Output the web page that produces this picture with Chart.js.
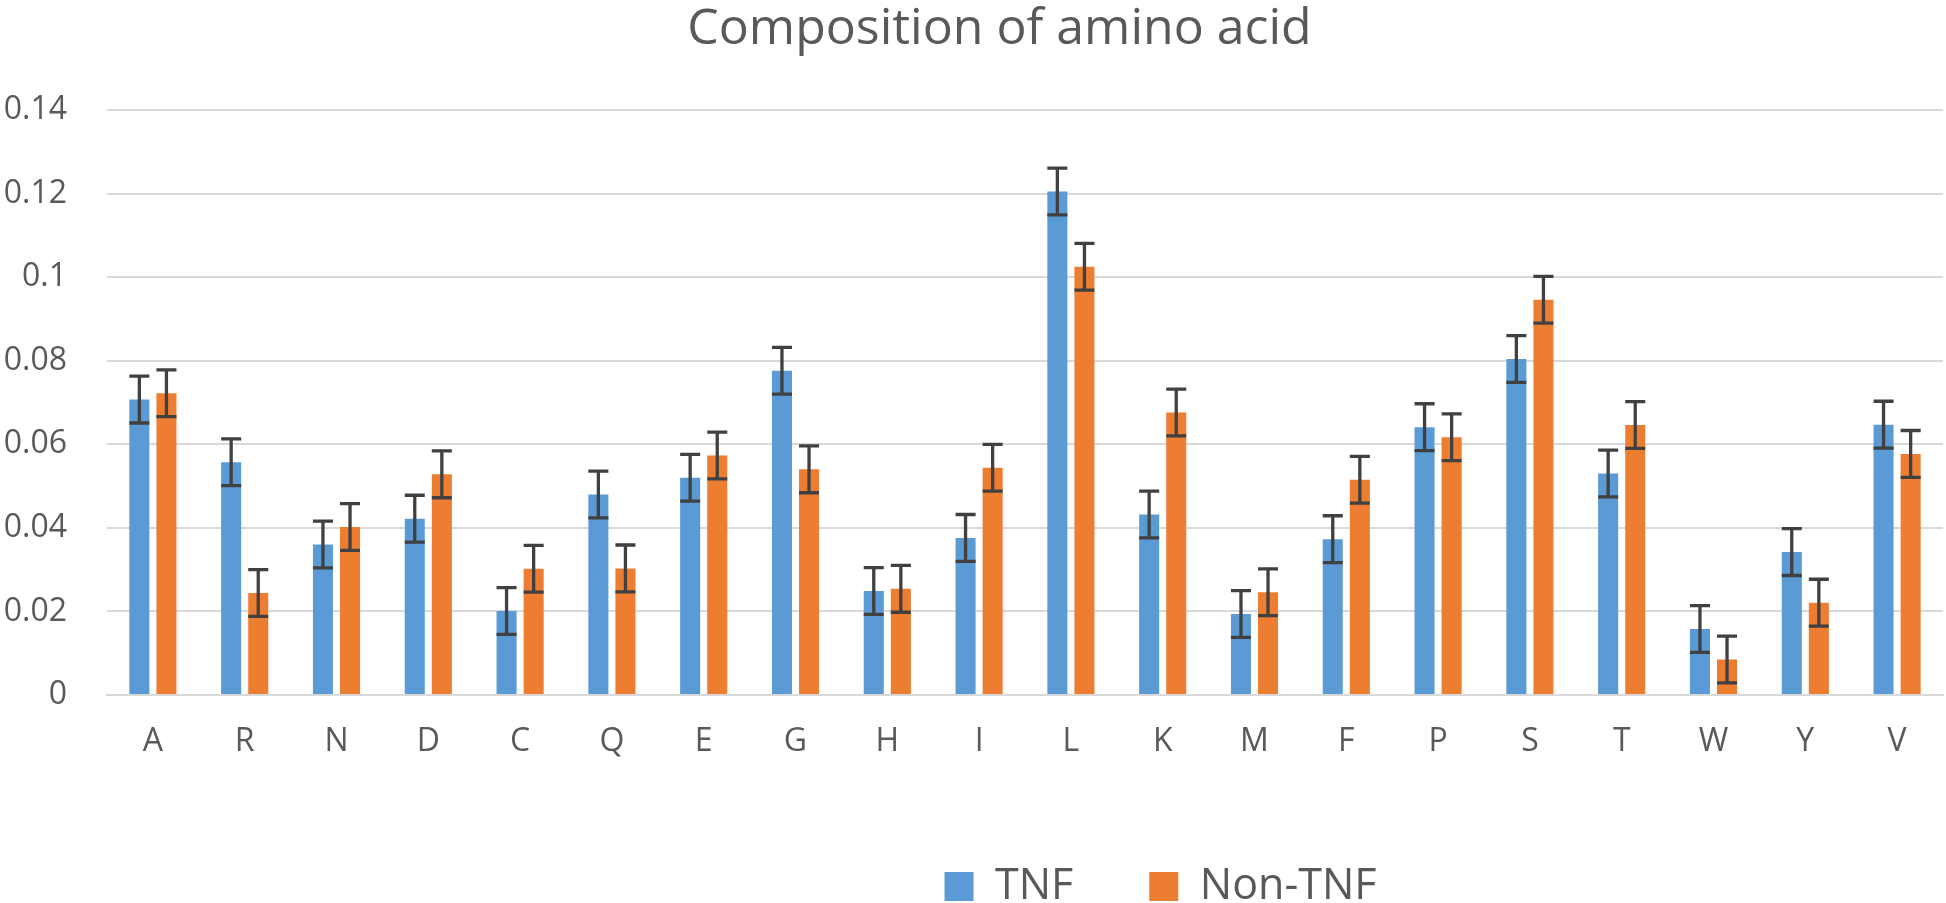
<!DOCTYPE html>
<html>
<head>
<meta charset="utf-8">
<script src="https://cdn.jsdelivr.net/npm/chart.js@4.4.1/dist/chart.umd.min.js"></script>
<style>
  html, body { margin: 0; padding: 0; background: #fff; overflow: hidden; }
  /* a bit taller than the window: the legend is cut at the bottom like in the original */
  #wrap { width: 1946px; height: 918px; }
</style>
</head>
<body>
<div id="wrap"><canvas id="aminoChart"></canvas></div>
<script>
// amino acids on the x axis
const aminoAcids = ['A', 'R', 'N', 'D', 'C', 'Q', 'E', 'G', 'H', 'I', 'L', 'K', 'M', 'F', 'P', 'S', 'T', 'W', 'Y', 'V'];

// mean composition
const tnfValues = [0.0707, 0.0557, 0.0360, 0.0422, 0.0201, 0.0480, 0.0520, 0.0776, 0.0249, 0.0376,
                   0.1205, 0.0432, 0.0194, 0.0373, 0.0641, 0.0804, 0.0530, 0.0158, 0.0342, 0.0647];
const nonTnfValues = [0.0722, 0.0244, 0.0402, 0.0528, 0.0302, 0.0303, 0.0573, 0.0540, 0.0254, 0.0544,
                      0.1025, 0.0676, 0.0246, 0.0515, 0.0617, 0.0946, 0.0646, 0.0085, 0.0221, 0.0577];

// error bar half-length (same for every bar in the picture)
const errorMargin = 0.0056;

const yTicks = [0, 0.02, 0.04, 0.06, 0.08, 0.1, 0.12, 0.14];

// draws error bars on top of the bars
const errorBarsPlugin = {
  id: 'errorBars',
  afterDatasetsDraw(chart) {
    const ctx = chart.ctx;
    const yScale = chart.scales.y;
    ctx.save();
    ctx.strokeStyle = '#404040';
    ctx.lineWidth = 3.3;
    chart.data.datasets.forEach((ds, i) => {
      const meta = chart.getDatasetMeta(i);
      meta.data.forEach((bar, j) => {
        const v = ds.data[j];
        const top = yScale.getPixelForValue(v + errorMargin);
        const bottom = yScale.getPixelForValue(v - errorMargin);
        const half = bar.width / 2;
        ctx.beginPath();
        ctx.moveTo(bar.x, top);
        ctx.lineTo(bar.x, bottom);
        ctx.moveTo(bar.x - half, top);
        ctx.lineTo(bar.x + half, top);
        ctx.moveTo(bar.x - half, bottom);
        ctx.lineTo(bar.x + half, bottom);
        ctx.stroke();
      });
    });
    ctx.restore();
  }
};

// the title and legend sit a bit right of centre in the original
const shiftBoxesPlugin = {
  id: 'shiftBoxes',
  afterLayout(chart) {
    chart.legend.left += 189;
    chart.legend.right += 189;
    chart.titleBlock.left += 28;
    chart.titleBlock.right += 28;
  }
};

const ctx = document.getElementById('aminoChart').getContext('2d');

new Chart(ctx, {
  type: 'bar',
  data: {
    labels: aminoAcids,
    datasets: [
      {
        label: 'TNF',
        data: tnfValues,
        backgroundColor: '#5B9BD5',
        barPercentage: 0.74,
        categoryPercentage: 0.59
      },
      {
        label: 'Non-TNF',
        data: nonTnfValues,
        backgroundColor: '#ED7D31',
        barPercentage: 0.74,
        categoryPercentage: 0.59
      }
    ]
  },
  options: {
    responsive: true,
    maintainAspectRatio: false,
    animation: false,
    layout: {
      padding: { left: 0, right: 3, top: 0, bottom: 0 }
    },
    plugins: {
      title: {
        display: true,
        text: 'Composition of amino acid',
        color: '#595959',
        font: { family: 'Open Sans', size: 50, weight: 'normal' },
        padding: { top: 0, bottom: 50 }
      },
      legend: {
        position: 'bottom',
        labels: {
          color: '#595959',
          font: { family: 'Open Sans', size: 43 },
          boxWidth: 29,
          boxHeight: 29,
          padding: 76
        }
      },
      tooltip: { enabled: false }
    },
    scales: {
      x: {
        grid: { display: false },
        border: { color: '#D9D9D9', width: 2 },
        ticks: {
          color: '#595959',
          font: { family: 'Open Sans', size: 32 },
          padding: 20
        },
        afterFit(scale) {
          scale.height = 94;
        }
      },
      y: {
        min: 0,
        max: 0.14,
        afterBuildTicks(scale) {
          scale.ticks = yTicks.map(v => ({ value: v }));
        },
        grid: { color: '#D9D9D9', lineWidth: 2, drawTicks: false },
        border: { display: false },
        ticks: {
          color: '#595959',
          font: { family: 'Open Sans', size: 32 },
          padding: 40,
          callback: (v) => String(Number(v.toFixed(2)))
        },
        afterFit(scale) {
          scale.width = 107;
        }
      }
    }
  },
  plugins: [errorBarsPlugin, shiftBoxesPlugin]
});
</script>
</body>
</html>
